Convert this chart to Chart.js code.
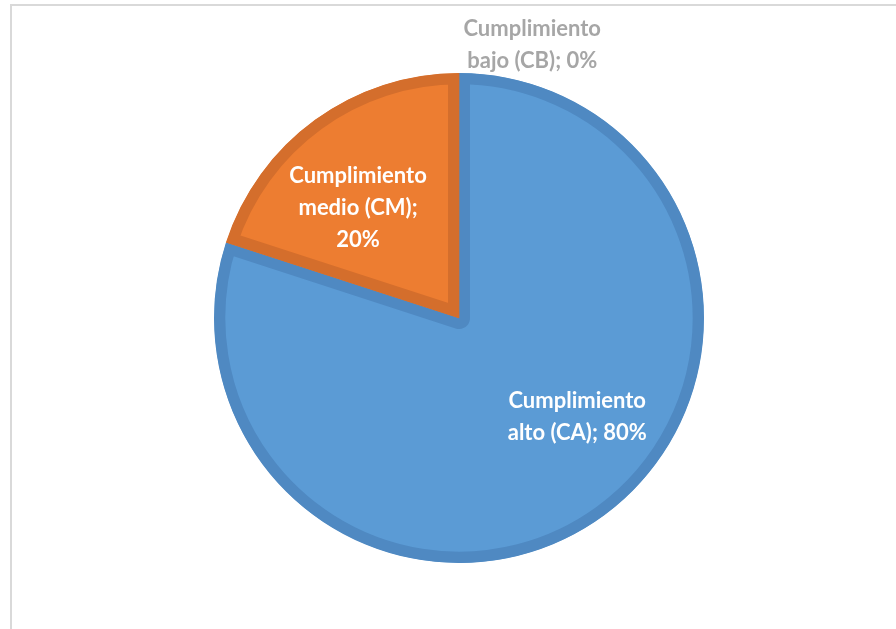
<!DOCTYPE html>
<html>
<head>
<meta charset="utf-8">
<script src="https://cdn.jsdelivr.net/npm/chart.js@4"></script>
<style>
  html, body { margin: 0; padding: 0; background: #fff; overflow: hidden; }
  #frame {
    position: absolute; left: 10px; top: 4px; width: 900px; height: 640px;
    border-left: 2px solid #d9d9d9; border-top: 2px solid #d9d9d9;
  }
  #wrap { position: absolute; left: 0; top: 0; width: 896px; height: 629px; }
</style>
</head>
<body>
<div id="frame"></div>
<div id="wrap"><canvas id="chart"></canvas></div>
<script>
const categories = ['Cumplimiento alto (CA)', 'Cumplimiento medio (CM)', 'Cumplimiento bajo (CB)'];
const values = [80, 20, 0];
const labelLines = [
    ['Cumplimiento', 'alto (CA); 80%'],
    ['Cumplimiento', 'medio (CM);', '20%'],
    ['Cumplimiento', 'bajo (CB); 0%']
];

// places the data labels relative to each arc (angle shift in degrees, radius factor)
const pieLabels = {
    id: 'pieLabels',
    afterDatasetsDraw(chart, args, opts) {
        const ctx = chart.ctx;
        const meta = chart.getDatasetMeta(0);
        ctx.save();
        ctx.font = opts.font;
        ctx.textAlign = 'center';
        ctx.textBaseline = 'middle';
        meta.data.forEach((arc, i) => {
            const p = arc.getProps(['x', 'y', 'startAngle', 'endAngle', 'outerRadius'], true);
            const place = opts.place[i];
            const a = (p.startAngle + p.endAngle) / 2 + place.shift * Math.PI / 180;
            const r = p.outerRadius * place.k;
            const cx = p.x + Math.cos(a) * r;
            const cy = p.y + Math.sin(a) * r;
            const lines = labelLines[i];
            ctx.fillStyle = opts.colors[i];
            lines.forEach((t, j) => {
                ctx.fillText(t, cx, cy + (j - (lines.length - 1) / 2) * opts.lineHeight);
            });
        });
        ctx.restore();
    }
};

new Chart(document.getElementById('chart'), {
    type: 'pie',
    data: {
        labels: categories,
        datasets: [{
            data: values,
            backgroundColor: ['#5b9bd5', '#ed7d31', '#a5a5a5'],
            borderColor: ['#4f89c2', '#d46e2c', '#969696'],
            borderWidth: 11,
            borderAlign: 'inner'
        }]
    },
    options: {
        responsive: true,
        maintainAspectRatio: false,
        animation: false,
        events: [],
        layout: {
            padding: { left: 214, right: 192, top: 73, bottom: 66 }
        },
        plugins: {
            legend: { display: false },
            tooltip: { enabled: false },
            pieLabels: {
                font: 'bold 22px Lato',
                lineHeight: 32,
                colors: ['#ffffff', '#ffffff', '#a6a6a6'],
                place: [
                    { shift: -14, k: 0.63 },
                    { shift: -6.5, k: 0.61 },
                    { shift: 15, k: 1.155 }
                ]
            }
        }
    },
    plugins: [pieLabels]
});
</script>
</body>
</html>
